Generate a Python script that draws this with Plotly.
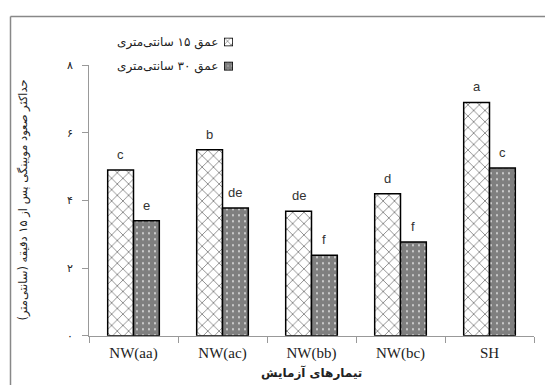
import plotly.graph_objects as go

categories = ["NW(aa)", "NW(ac)", "NW(bb)", "NW(bc)", "SH"]
depth15 = [4.9, 5.5, 3.68, 4.2, 6.9]
depth30 = [3.4, 3.78, 2.38, 2.77, 4.96]
letters15 = ["c", "b", "de", "d", "a"]
letters30 = ["e", "de", "f", "f", "c"]
name15 = "عمق ۱۵ سانتی‌متری"
name30 = "عمق ۳۰ سانتی‌متری"
ytickvals = [0, 2, 4, 6, 8]
yticktext = ["۰", "۲", "۴", "۶", "۸"]
xtitle = "تیمارهای آزمایش"
ytitle = "حداکثر صعود مویینگی پس از ۱۵ دقیقه (سانتی‌متر)"

OFF = 8  # page body margin
W, H = 553 - OFF, 392 - OFF
PL, PR, PT, PB = 89, 534, 61, 341  # plot area in window pixels

def px_x(p):
    return (p - OFF) / W

def px_y(p):
    return 1 - (p - OFF) / H

pat15 = dict(shape="x", fgcolor="black", bgcolor="white", size=8, solidity=0.2)
pat30 = dict(shape=".", fgcolor="black", bgcolor="white", size=6, solidity=0.85)
outline = dict(color="black", width=1.5)

fig = go.Figure()

fig.add_trace(go.Bar(x=categories, y=depth15, name=name15,
                     marker=dict(color="white", pattern=pat15, line=outline)))
fig.add_trace(go.Bar(x=categories, y=depth30, name=name30,
                     marker=dict(color="white", pattern=pat30, line=outline)))

# legend swatches (drawn as small bars on their own axes)
fig.add_trace(go.Bar(x=[0], y=[1], width=[1], xaxis="x2", yaxis="y2", showlegend=False,
                     marker=dict(color="white", pattern=dict(shape="x", fgcolor="black", bgcolor="white", size=5, solidity=0.25),
                                 line=dict(color="black", width=1.5)), hoverinfo="skip"))
fig.add_trace(go.Bar(x=[0], y=[1], width=[1], xaxis="x3", yaxis="y3", showlegend=False,
                     marker=dict(color="white", pattern=dict(shape=".", fgcolor="black", bgcolor="white", size=4, solidity=0.85),
                                 line=dict(color="black", width=1.5)), hoverinfo="skip"))

annotations = []
bw = (PR - PL) / len(categories) * 0.58 / 2
for i, c in enumerate(categories):
    annotations.append(dict(x=c, y=depth15[i], xref="x", yref="y", text=letters15[i], showarrow=False,
                            xshift=-bw / 2, yanchor="bottom", yshift=6,
                            font=dict(family="Liberation Sans", size=13, color="#333")))
    annotations.append(dict(x=c, y=depth30[i], xref="x", yref="y", text=letters30[i], showarrow=False,
                            xshift=bw / 2, yanchor="bottom", yshift=6,
                            font=dict(family="Liberation Sans", size=13, color="#333")))

annotations.append(dict(x=px_x((PL + PR) / 2), y=px_y(379), xref="paper", yref="paper", text="<b>" + xtitle + "</b>",
                        xanchor="center", yanchor="middle",
                        showarrow=False, font=dict(family="DejaVu Sans", size=12, color="#222")))
annotations.append(dict(x=px_x(23), y=px_y((PT + PB) / 2), xref="paper", yref="paper", text=ytitle, textangle=-90,
                        xanchor="center", yanchor="middle",
                        showarrow=False, font=dict(family="DejaVu Sans", size=11.5, color="#222")))
annotations.append(dict(x=px_x(220), y=px_y(37), xref="paper", yref="paper", text=name15,
                        xanchor="right", yanchor="middle",
                        showarrow=False, font=dict(family="DejaVu Sans", size=12, color="#222")))
annotations.append(dict(x=px_x(220), y=px_y(62), xref="paper", yref="paper", text=name30,
                        xanchor="right", yanchor="middle",
                        showarrow=False, font=dict(family="DejaVu Sans", size=12, color="#222")))

fig.update_layout(
    width=W, height=H,
    margin=dict(l=0, r=0, t=0, b=0),
    paper_bgcolor="white", plot_bgcolor="rgba(0,0,0,0)",
    showlegend=False,
    barmode="group", bargap=0.42, bargroupgap=0,
    xaxis=dict(domain=[px_x(PL), px_x(PR)], type="category", tickson="boundaries",
               ticks="outside", ticklen=6, tickcolor="#999", showline=True, linecolor="#999", linewidth=1,
               tickfont=dict(family="Liberation Serif", size=15, color="#222"), ticklabelstandoff=3,
               showgrid=False, anchor="y"),
    yaxis=dict(domain=[px_y(PB), px_y(PT)], range=[0, 8], tickvals=ytickvals, ticktext=yticktext,
               ticks="outside", ticklen=6, tickcolor="#999", showline=True, linecolor="#999", linewidth=1,
               tickfont=dict(family="DejaVu Sans", size=11, color="#222"), ticklabelstandoff=7,
               showgrid=False, zeroline=False, anchor="x"),
    xaxis2=dict(domain=[px_x(224), px_x(233)], range=[-0.5, 0.5], visible=False, anchor="y2"),
    yaxis2=dict(domain=[px_y(41.5), px_y(32.5)], range=[0, 1], visible=False, anchor="x2"),
    xaxis3=dict(domain=[px_x(224), px_x(233)], range=[-0.5, 0.5], visible=False, anchor="y3"),
    yaxis3=dict(domain=[px_y(66.5), px_y(57.5)], range=[0, 1], visible=False, anchor="x3"),
    annotations=annotations,
    shapes=[
        dict(type="line", xref="paper", yref="paper", x0=px_x(10.5), x1=px_x(10.5), y0=0.0, y1=px_y(10.5),
             line=dict(color="#888888", width=1.5), layer="above"),
        dict(type="line", xref="paper", yref="paper", x0=px_x(10.5), x1=1.0, y0=px_y(10.5), y1=px_y(10.5),
             line=dict(color="#888888", width=1.5), layer="above"),
    ],
)

fig.write_html("out.html")
